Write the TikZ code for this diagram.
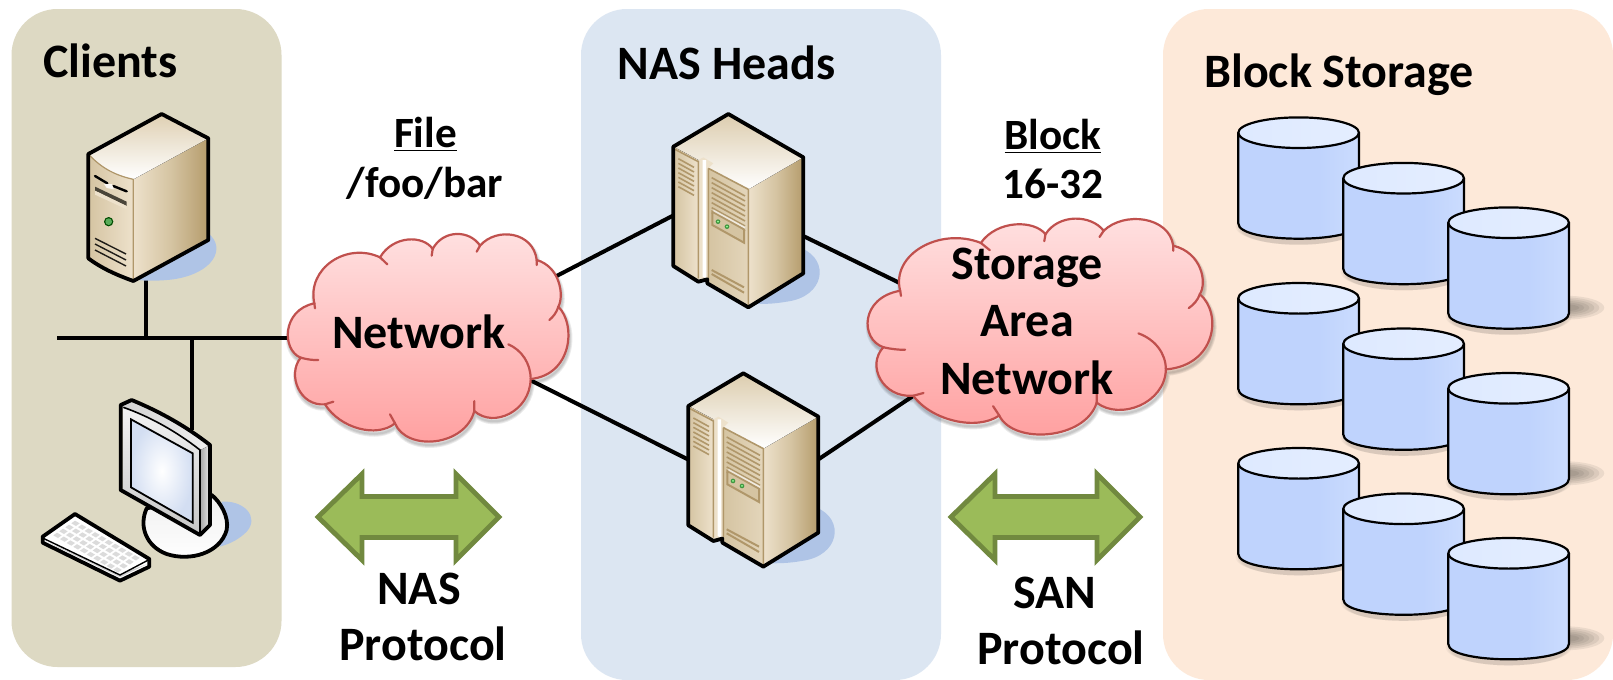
\documentclass[tikz,border=0pt]{standalone}
\usepackage{fontspec}
\setmainfont{Carlito}
\usetikzlibrary{calc}
\definecolor{clientbg}{HTML}{DDD9C3}
\definecolor{nasbg}{HTML}{DCE6F2}
\definecolor{blockbg}{HTML}{FDE9D9}
\definecolor{cloudedge}{HTML}{C0504D}
\definecolor{cloudtop}{HTML}{FFE2E2}
\definecolor{cloudbot}{HTML}{FF9E9E}
\definecolor{arrowfill}{HTML}{9BBB59}
\definecolor{arrowedge}{HTML}{71893F}
\definecolor{cylbody}{HTML}{BFD3FD}
\definecolor{cyllight}{HTML}{DDE9FF}
\definecolor{shadowblue}{HTML}{AFC4E6}
\definecolor{beigeL}{HTML}{EDE1CB}
\definecolor{beigeM}{HTML}{D5C4A2}
\definecolor{beigeD}{HTML}{B59C6C}
\definecolor{doorline}{HTML}{B0976A}
\definecolor{screenblue}{HTML}{D3DEF2}
\pgfdeclarehorizontalshading{cylshade}{100bp}{color(0bp)=(cylbody); color(58bp)=(cylbody); color(100bp)=(cyllight)}
\pgfdeclarehorizontalshading{cyltop}{100bp}{color(0bp)=(cyllight!92!cylbody); color(100bp)=(cyllight!70!white)}
\tikzset{
  panel/.style={rounded corners=23pt,draw=none},
  lbl/.style={font=\fontsize{21.6}{26}\selectfont\bfseries,text=black,inner sep=0pt,anchor=base},
  biglbl/.style={lbl,font=\fontsize{24}{29}\selectfont\bfseries},
  wire/.style={draw=black,line width=2pt},
  thickoutline/.style={draw=black,line width=1.9pt,line join=round},
  bigarrow/.style={fill=arrowfill,draw=arrowedge,line width=2.4pt,line join=miter},
  cylline/.style={draw=black,line width=1.1pt},
  ventline/.style={draw=doorline,line width=.8pt},
}
% cloud outline, in the units of a 3x crop
\newcommand{\cloudoutline}{(62,398) .. controls (5,375) and (5,255) .. (103,235)
  .. controls (80,130) and (200,50) .. (300,97)
  .. controls (340,30) and (430,30) .. (458,72)
  .. controls (490,12) and (570,15) .. (600,62)
  .. controls (650,5) and (760,20) .. (770,105)
  .. controls (840,125) and (853,212) .. (835,245)
  .. controls (890,300) and (875,450) .. (752,462)
  .. controls (750,560) and (640,610) .. (583,558)
  .. controls (555,665) and (380,680) .. (345,595)
  .. controls (290,640) and (180,610) .. (135,538)
  .. controls (60,545) and (20,450) .. (62,398) -- cycle}
\newcommand{\cloudshape}{%
  \foreach \w in {3,2,1}{\draw[black,opacity=.08,line width=\w pt,shift={(3,10)}] \cloudoutline;}
  \draw[cloudedge,line width=1.1pt,top color=cloudtop,bottom color=cloudbot] \cloudoutline;
  \draw[cloudedge,line width=1.1pt,line cap=round]
    (62,398) .. controls (80,403) and (100,406) .. (115,405)
    (103,235) -- (105,250)
    (300,97) -- (322,118)
    (458,72) -- (455,92)
    (600,62) -- (590,80)
    (770,105) -- (770,120)
    (835,245) .. controls (830,262) and (820,275) .. (808,285)
    (685,358) .. controls (725,375) and (752,415) .. (752,462)
    (583,558) -- (583,528)
    (345,595) -- (330,568)
    (135,538) -- (160,530);
}
\newcommand{\cylinder}[3]{%
  \begin{scope}[shift={(#1,#2)}]
    \foreach \k in {0,1,2,3}{%
      \fill[black!70!blockbg,opacity=.05] (60.3,{94+\k}) ellipse[x radius={63-\k*2},y radius={18-\k}];}
    \ifnum#3=1
      \foreach \k in {0,1,2,3,4,5}{\fill[black!75!blockbg,opacity=.09]
        (116,85) ellipse[x radius={40-\k*5},y radius={12-\k*1.7}];}
    \fi
    \path[shading=cylshade]
      (0,0) -- (0,90.7) .. controls (0,111.1) and (120.6,111.1) .. (120.6,90.7) -- (120.6,0) -- cycle;
    \draw[cylline] (0,0) -- (0,90.7) .. controls (0,111.1) and (120.6,111.1) .. (120.6,90.7) -- (120.6,0);
    \path[shading=cyltop,cylline,draw=black] (60.3,0) ellipse[x radius=60.3,y radius=15.3];
  \end{scope}%
}
\newcommand{\rackserver}[2]{%
  \begin{scope}[shift={(#1,#2)},x=.16667pt,y=-.16667pt]
    \fill[shadowblue] (515,445) .. controls (600,480) and (585,590) .. (470,605) .. controls (430,612) and (400,612) .. (370,612) -- cycle;
    % right face
    \fill[left color=beigeL,right color=beigeD,middle color=beigeM] (355,268) -- (520,172) -- (520,520) -- (355,622) -- cycle;
    % top face
    \fill[top color=beigeM!70!beigeL,bottom color=white] (130,140) -- (295,42) -- (520,172) -- (355,268) -- (235,205) -- (205,180) -- cycle;
    % doors
    \fill[left color=beigeM,right color=beigeL] (130,140) -- (205,180) -- (205,545) -- (130,498) -- cycle;
    \fill[left color=beigeM,right color=beigeL!60!beigeM] (235,205) -- (355,268) -- (355,622) -- (235,550) -- cycle;
    \fill[beigeL] (205,180) -- (220,172) -- (250,190) -- (235,205) -- (235,540) -- (205,540) -- cycle;
    \fill[white] (218,180) -- (228,180) -- (228,535) -- (218,530) -- cycle;
    \draw[ventline] (135,148) -- (205,185) -- (205,535) (235,205) -- (355,268) -- (355,622) (235,205) -- (235,535);
    \foreach \n in {0,...,6}{\draw[ventline] (145,{176+\n*14}) -- (192,{202+\n*14});}
    \foreach \n in {0,...,7}{\draw[ventline] (245,{233+\n*15}) -- (345,{288+\n*15});}
    \draw[ventline,fill=beigeM,line width=1pt] (247,335) -- (342,388) -- (342,428) -- (247,375) -- cycle;
    \fill[white,opacity=.6] (250,328) -- (345,380) -- (345,386) -- (250,334) -- cycle;
    \fill[green!45!black!75] (264,365) circle[radius=7] (291,380) circle[radius=7];
    \fill[green!40!white] (264,365) circle[radius=3] (291,380) circle[radius=3];
    \draw[ventline,line width=1pt] (245,510) -- (342,562) (245,522) -- (342,578);
    \draw[thickoutline] (295,42) -- (520,172) -- (520,520) -- (355,622) -- (232,550) -- (232,538) -- (205,545) -- (130,498) -- (130,140) -- cycle;
  \end{scope}%
}
\begin{document}
\begin{tikzpicture}[x=.5pt,y=-.5pt]
\useasboundingbox (0,0) rectangle (1613,680);
\fill[white] (0,0) rectangle (1613,680);
% panels
\fill[clientbg,panel] (11.5,9) rectangle (281.5,667);
\fill[nasbg,panel] (581,9) rectangle (941,680);
\fill[blockbg,panel] (1163,9) rectangle (1613,680);

% anchors of the connectors
\coordinate (busL) at (57,338);
\coordinate (busR) at (300,338);
\coordinate (towerfoot) at (146,270);
\coordinate (busA) at (146,338);
\coordinate (busB) at (192,338);
\coordinate (monitortop) at (192,430);
\coordinate (netNE) at (545,282);
\coordinate (netSE) at (520,375);
\coordinate (headAw) at (680,212);
\coordinate (headBw) at (695,463);
\coordinate (headAe) at (795,232);
\coordinate (headBe) at (810,465);
\coordinate (sanNW) at (910,288);
\coordinate (sanSW) at (925,388);
% connectors
\draw[wire] (busL) -- (busR);
\draw[wire] (towerfoot) -- (busA);
\draw[wire] (busB) -- (monitortop);
\draw[wire] (netNE) -- (headAw);
\draw[wire] (netSE) -- (headBw);
\draw[wire] (headAe) -- (sanNW);
\draw[wire] (headBe) -- (sanSW);

% tower client
\begin{scope}[shift={(30,100)},x=.16667pt,y=-.16667pt]
  \fill[shadowblue] (535,400) .. controls (590,445) and (550,520) .. (430,538) .. controls (390,543) and (350,543) .. (320,540) -- cycle;
  \fill[left color=beigeL,right color=beigeD,middle color=beigeM] (310,238) -- (535,115) -- (535,420) -- (310,543) -- cycle;
  \fill[top color=beigeM!60!beigeL,bottom color=white] (175,162) -- (395,42) -- (535,115) -- (310,238) .. controls (250,225) and (210,200) .. (175,162) -- cycle;
  \fill[left color=beigeM,right color=beigeL] (175,162) .. controls (210,200) and (250,225) .. (310,238) -- (310,543) .. controls (260,525) and (215,505) .. (175,475) -- cycle;
  \draw[doorline,line width=.6pt] (175,162) .. controls (210,200) and (250,225) .. (310,238) -- (310,543);
  \draw[black,line width=1.2pt,line cap=round] (195,228) -- (232,250) (250,258) -- (290,274);
  \fill[white!85!beigeM] (222,252) -- (245,252) -- (252,268) -- (230,264) -- cycle;
  \fill[black!65!beigeM] (195,260) -- (290,305) -- (290,318) -- (195,272) -- cycle;
  \fill[beigeL] (195,272) -- (290,318) -- (290,328) -- (195,284) -- cycle;
  \fill[black!70!green] (236,365) circle[radius=14];
  \fill[green!50!black!65] (236,365) circle[radius=10];
  \draw[black!85!beigeM,line width=.7pt] (195,415) -- (288,462) (195,432) -- (288,480) (195,450) -- (288,498);
  \draw[thickoutline] (395,42) -- (535,115) -- (535,420) -- (310,543) .. controls (260,525) and (215,505) .. (175,475) -- (175,162) -- cycle;
\end{scope}

% monitor client
\begin{scope}[shift={(30,370)},x=.16667pt,y=-.16667pt]
  \fill[shadowblue] (575,395) .. controls (640,390) and (690,440) .. (650,485) .. controls (630,505) and (605,520) .. (570,530) -- cycle;
  \draw[thickoutline,fill=white,top color=black!6,bottom color=white] (350,415) .. controls (325,470) and (350,530) .. (410,552) .. controls (480,575) and (570,550) .. (590,480) .. controls (598,440) and (570,395) .. (545,375) -- cycle;
  \fill[left color=black!35,right color=black!8] (510,240) -- (540,225) -- (540,465) -- (510,495) -- cycle;
  \fill[left color=black!18,right color=black!6] (272,105) -- (305,90) .. controls (390,125) and (470,170) .. (540,225) -- (510,240) .. controls (440,185) and (360,140) .. (280,112) -- cycle;
  \fill[top color=black!5,bottom color=black!22] (280,112) .. controls (360,140) and (440,185) .. (510,240) -- (510,495) -- (280,360) -- cycle;
  \shade[inner color=white,outer color=screenblue] (303,148) -- (488,250) -- (488,458) -- (303,352) -- cycle;
  \draw[black,line width=.9pt] (303,148) -- (488,250) -- (488,458) -- (303,352) -- cycle;
  \draw[thickoutline] (272,105) -- (305,90) .. controls (390,125) and (470,170) .. (540,225) -- (540,465) -- (510,495) -- (272,360) -- cycle;
  \draw[black,line width=.8pt] (280,112) .. controls (360,140) and (440,185) .. (510,240) -- (510,495);
  % keyboard
  \draw[thickoutline,fill=white] (38,500) -- (135,432) -- (358,567) -- (358,590) -- (270,632) -- (38,518) -- cycle;
  \fill[black!18] (42,512) -- (270,622) -- (352,582) -- (270,612) -- cycle;
  \draw[black,line width=.7pt] (40,505) -- (270,615) -- (355,570);
  \foreach \i in {0,...,9}{\foreach \j in {0,...,3}{
    \fill[black!14] ({135+\i*20-\j*18},{452+\i*11.5+\j*12}) -- ++(14,8) -- ++(-11,8) -- ++(-14,-8) -- cycle;
  }}
\end{scope}

% NAS heads
\rackserver{630}{100}
\rackserver{645}{359.3}

% clouds
\begin{scope}[shift={(280,225)},x=.16667pt,y=-.16667pt]\cloudshape\end{scope}
\begin{scope}[shift={(858,209.3)},x=.2047pt,y=-.1733pt]\cloudshape\end{scope}

% big arrows
\coordinate (nasW) at (318,517);
\coordinate (nasE) at (499,517);
\draw[bigarrow] (nasW) -- (362,474) -- (362,496.5) -- (456,496.5) -- (456,474) -- (nasE) -- (456,560) -- (456,537.5) -- (362,537.5) -- (362,560) -- cycle;
\coordinate (sanW) at (951,517);
\coordinate (sanE) at (1140,517);
\draw[bigarrow] (sanW) -- (995,474) -- (995,496.5) -- (1097,496.5) -- (1097,474) -- (sanE) -- (1097,560) -- (1097,537.5) -- (995,537.5) -- (995,560) -- cycle;

% cylinders
\foreach \gy in {132.7,298.3,463.3}{
  \cylinder{1238.3}{\gy}{0}
  \pgfmathsetmacro{\gyb}{\gy+45.5}
  \pgfmathsetmacro{\gyc}{\gy+90}
  \cylinder{1343.3}{\gyb}{0}
  \cylinder{1448.3}{\gyc}{1}
}

% labels
\node[biglbl] (clients) at (110.5,77) {Clients};
\node[biglbl] (heads) at (726.5,79) {NAS Heads};
\node[biglbl] (storage) at (1339,87) {Block Storage};
\node[lbl] (file) at (425.5,147) {\underline{File}};
\node[lbl] (path) at (425,197) {/foo/bar};
\node[lbl] (block) at (1053,149) {\underline{Block}};
\node[lbl] (range) at (1053,198) {16-32};
\node[biglbl] (net) at (419,348) {Network};
\node[biglbl] (san1) at (1027,279) {Storage};
\node[biglbl] (san2) at (1027,336) {Area};
\node[biglbl] (san3) at (1027,394) {Network};
\node[biglbl] (nas1) at (419,604) {NAS};
\node[biglbl] (nas2) at (423,660) {Protocol};
\node[biglbl] (sanp1) at (1055,608) {SAN};
\node[biglbl] (sanp2) at (1061,664) {Protocol};
\end{tikzpicture}
\end{document}
